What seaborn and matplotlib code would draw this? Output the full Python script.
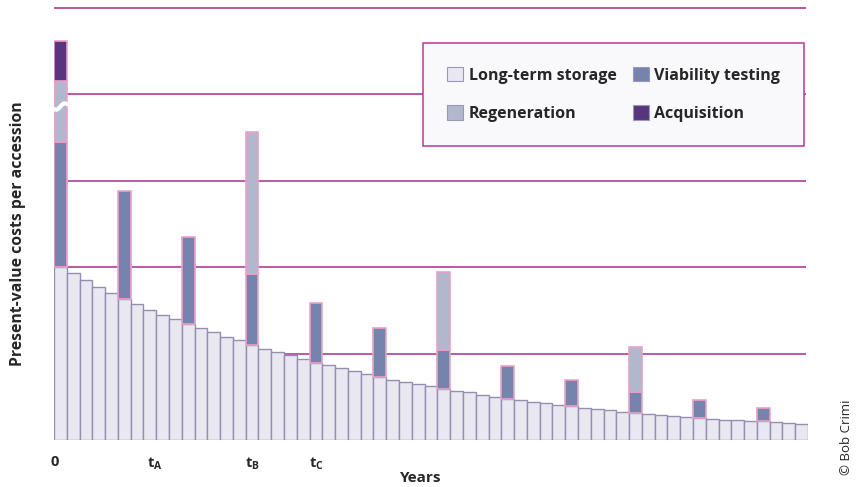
import numpy as np
import pandas as pd
import seaborn as sns
import matplotlib.pyplot as plt
from matplotlib.patches import Patch
from matplotlib.colors import to_rgba

# cost components per year (units = gridline spacing)
years = list(range(59))
storage = [2.00, 1.93, 1.85, 1.77, 1.70, 1.635, 1.57, 1.51, 1.45, 1.40,
           1.345, 1.295, 1.245, 1.195, 1.155, 1.10, 1.053, 1.013, 0.983, 0.943,
           0.897, 0.866, 0.832, 0.80, 0.761, 0.731, 0.70, 0.671, 0.65, 0.62,
           0.596, 0.57, 0.55, 0.525, 0.50, 0.48, 0.463, 0.443, 0.425, 0.408,
           0.388, 0.374, 0.355, 0.343, 0.328, 0.318, 0.301, 0.286, 0.275, 0.267,
           0.255, 0.247, 0.236, 0.228, 0.224, 0.217, 0.205, 0.193, 0.187]
viab_years = [0, 5, 10, 15, 20, 25, 30, 35, 40, 45, 50, 55]
viability = [1.45, 1.245, 1.00, 0.82, 0.69, 0.56, 0.44, 0.38, 0.31, 0.235, 0.21, 0.157]
regen_years = [0, 15, 30, 45]
regeneration = [0.70, 1.65, 0.91, 0.527]
acq_years = [0]
acquisition = [0.47]

tick_pos = [-0.42, 7.4, 15.0, 20.0]
tick_labels = ['0', r'$\mathbf{t}_{\mathbf{A}}$', r'$\mathbf{t}_{\mathbf{B}}$', r'$\mathbf{t}_{\mathbf{C}}$']

colors = {
    'Long-term storage': '#E9E8F0',
    'Viability testing': '#7683AD',
    'Regeneration': '#B1B7CC',
    'Acquisition': '#58357F',
}
grid_color = '#A8298C'

rows = []
for y, v in zip(years, storage):
    rows.append((y, 'Long-term storage', v))
for y, v in zip(viab_years, viability):
    rows.append((y, 'Viability testing', v))
for y, v in zip(regen_years, regeneration):
    rows.append((y, 'Regeneration', v))
for y, v in zip(acq_years, acquisition):
    rows.append((y, 'Acquisition', v))
df = pd.DataFrame(rows, columns=['year', 'component', 'cost'])

sns.set_style('white')
plt.rcParams['font.family'] = ['Open Sans', 'DejaVu Sans']
plt.rcParams['mathtext.fontset'] = 'custom'
plt.rcParams['mathtext.bf'] = 'Open Sans:bold'
plt.rcParams['mathtext.rm'] = 'Open Sans'

fig = plt.figure(figsize=(8.58, 4.87), dpi=100)
ax = fig.add_axes([54 / 858, 47 / 487, 754 / 858, 440 / 487])

# last hue level ends up at the bottom of the stack
stack_order = ['Acquisition', 'Regeneration', 'Viability testing', 'Long-term storage']
sns.histplot(data=df, x='year', weights='cost', hue='component', hue_order=stack_order,
             multiple='stack', discrete=True, palette=colors, alpha=1, legend=False,
             ax=ax, zorder=2)

storage_rgba = to_rgba(colors['Long-term storage'])
for p in ax.patches:
    if p.get_height() < 1e-9:
        p.set_visible(False)
        continue
    if np.allclose(p.get_facecolor(), storage_rgba):
        p.set_edgecolor('#928FB2')
        p.set_linewidth(1.0)
    else:
        p.set_edgecolor('#EE9FC6')
        p.set_linewidth(1.2)

# horizontal guide lines
ax.hlines([1, 2, 3, 4, 5], -0.5, 58.35, color=grid_color, lw=1.1, zorder=1)

# axis break on the first bar
bx = np.linspace(-0.65, 0.65, 60)
by = 3.86 + 0.03 * (bx / 0.5) + 0.018 * np.sin(2 * np.pi * bx)
ax.plot(bx, by, color='white', lw=3.0, zorder=5, solid_capstyle='butt')

ax.set_xlim(-0.5, 58.5)
ax.set_ylim(0, 5.093)
ax.set_yticks([])
ax.set_xticks(tick_pos, tick_labels)
ax.tick_params(axis='x', length=0, pad=11, labelsize=10.5)
for lbl in ax.get_xticklabels():
    lbl.set_fontweight('bold')
ax.set_xlabel('')
ax.set_ylabel('')
sns.despine(ax=ax, left=True, bottom=True)

handles = [Patch(facecolor=colors[k], edgecolor='#9A98B8', lw=0.8)
           for k in ['Long-term storage', 'Regeneration', 'Viability testing', 'Acquisition']]
labels = ['Long-term storage', 'Regeneration', 'Viability testing', 'Acquisition']
leg = ax.legend(handles, labels, ncol=2, loc='upper right',
                bbox_to_anchor=(0.9947, 0.902), frameon=True, fancybox=False,
                prop={'weight': 'bold', 'size': 11.5},
                handlelength=1.0, handleheight=1.0, handletextpad=0.35,
                columnspacing=1.0, labelspacing=1.35, borderpad=1.5, borderaxespad=0)
leg.get_frame().set_edgecolor('#B8389E')
leg.get_frame().set_facecolor('#F9F9FC')
leg.get_frame().set_linewidth(1.1)
leg.get_frame().set_alpha(1)
leg.set_zorder(6)

fig.text(18 / 858, 1 - 234 / 487, 'Present-value costs per accession', rotation=90,
         ha='center', va='center', fontsize=11.3, fontweight='bold')
fig.text(421 / 858, 1 - 478 / 487, 'Years', ha='center', va='center',
         fontsize=11, fontweight='bold')
fig.text(846 / 858, 1 - 437 / 487, '© Bob Crimi', rotation=90, ha='center', va='center',
         fontsize=9.5)

fig.savefig('out.png', dpi=100, facecolor='white')
